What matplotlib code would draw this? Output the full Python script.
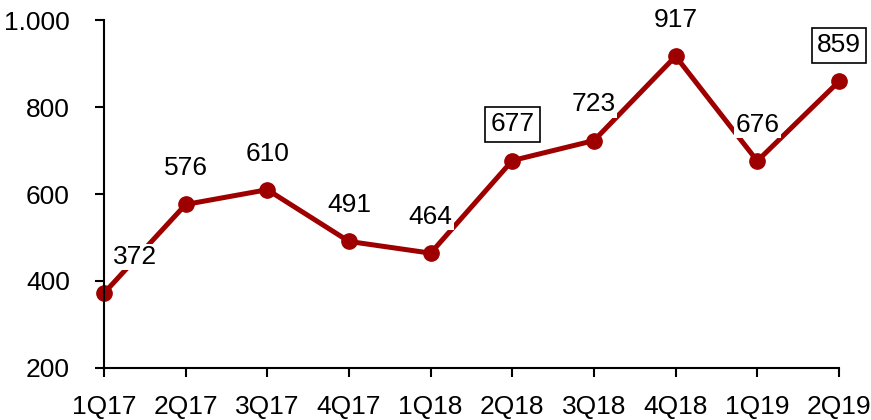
import matplotlib
matplotlib.use('Agg')
import matplotlib.pyplot as plt

quarters = ['1Q17', '2Q17', '3Q17', '4Q17', '1Q18', '2Q18', '3Q18', '4Q18', '1Q19', '2Q19']
values = [372, 576, 610, 491, 464, 677, 723, 917, 676, 859]
boxed = ['2Q18', '2Q19']
y_ticks = [200, 400, 600, 800, 1000]
y_tick_labels = ['200', '400', '600', '800', '1.000']

plt.rcParams['font.family'] = ['Liberation Sans', 'DejaVu Sans']

fig = plt.figure(figsize=(8.71, 4.2), dpi=100)
ax = fig.add_axes([0.1194, 0.124, 0.8438, 0.828])

x = list(range(len(quarters)))
ax.plot(x, values, '-o', color='#9E0000', lw=3.6, markersize=11, zorder=2, clip_on=False)

for i, (q, v) in enumerate(zip(quarters, values)):
    dx = 22 if i == 0 else 0   # first label sits to the right of the point
    if q in boxed:
        bbox = dict(boxstyle='square,pad=0.2', fc='white', ec='black', lw=1.2)
    else:
        bbox = dict(boxstyle='square,pad=0.05', fc='white', ec='none')
    ax.annotate(str(v), (i, v), xytext=(dx, 26), textcoords='offset points',
                ha='center', va='center', fontsize=19, bbox=bbox, zorder=3)

ax.set_xlim(0, len(quarters) - 1)
ax.set_ylim(200, 1000)
ax.set_xticks(x)
ax.set_xticklabels(quarters)
ax.set_yticks(y_ticks)
ax.set_yticklabels(y_tick_labels)
ax.tick_params(labelsize=19, length=6.5, width=1.5, colors='black')
ax.tick_params(axis='x', pad=13)
ax.tick_params(axis='y', pad=18)

for side in ['top', 'right']:
    ax.spines[side].set_visible(False)
for side in ['left', 'bottom']:
    ax.spines[side].set_linewidth(1.5)
ax.patch.set_visible(False)
for lab in ax.get_xticklabels() + ax.get_yticklabels():
    lab.set_clip_on(False)

fig.savefig('out.png', dpi=100)
